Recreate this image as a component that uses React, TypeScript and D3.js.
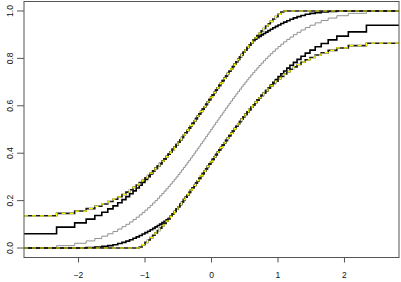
import React from 'react';
import * as d3 from 'd3';

// sorted sample (100 points)
const sample = [
  -2.330, -2.058, -1.885, -1.755, -1.650, -1.560, -1.481, -1.410, -1.346, -1.287,
  -1.232, -1.180, -1.132, -1.086, -1.043, -1.001, -0.961, -0.922, -0.885, -0.849,
  -0.814, -0.780, -0.746, -0.714, -0.682, -0.651, -0.621, -0.591, -0.561, -0.533,
  -0.504, -0.476, -0.449, -0.422, -0.395, -0.368, -0.342, -0.316, -0.290, -0.264,
  -0.239, -0.213, -0.188, -0.163, -0.137, -0.112, -0.087, -0.062, -0.037, -0.012,
  0.012, 0.037, 0.062, 0.087, 0.112, 0.137, 0.163, 0.188, 0.213, 0.239,
  0.264, 0.290, 0.316, 0.342, 0.368, 0.395, 0.422, 0.449, 0.476, 0.504,
  0.533, 0.561, 0.591, 0.621, 0.651, 0.682, 0.714, 0.746, 0.780, 0.814,
  0.849, 0.885, 0.922, 0.961, 1.001, 1.043, 1.086, 1.132, 1.180, 1.232,
  1.287, 1.346, 1.410, 1.481, 1.560, 1.650, 1.755, 1.885, 2.058, 2.330,
];

// half width of the dashed (yellow) band
const dkwEps = 0.136;

// black band in the tails, by step count k (mirrored on the right)
const bandUpperLeft = [
  0.060, 0.088, 0.106, 0.122, 0.137, 0.151, 0.165, 0.178, 0.191, 0.204,
  0.217, 0.229, 0.241, 0.253, 0.265, 0.277, 0.289, 0.301, 0.313, 0.325,
];
const bandLowerLeft = [
  0, 0, 0, 0.002, 0.004, 0.007, 0.010, 0.014, 0.019, 0.024,
  0.029, 0.035, 0.041, 0.047, 0.053, 0.059, 0.065, 0.071, 0.077, 0.083,
  0.089, 0.095, 0.101, 0.107, 0.113, 0.119,
];

const xTicks = [-2, -1, 0, 1, 2];
const yTicks = [0, 0.2, 0.4, 0.6, 0.8, 1.0];

const width = 401;
const height = 282;
const box = { left: 24, right: 399, top: 1.5, bottom: 257.5 };

export default function App() {
  const n = sample.length;
  const x = d3.scaleLinear().domain([-2.82, 2.82]).range([box.left, box.right]);
  const y = d3.scaleLinear().domain([-0.04, 1.04]).range([box.bottom, box.top]);

  const ks = d3.range(n + 1);
  const dkwU = (k: number) => Math.min(1, k / n + dkwEps);
  const dkwL = (k: number) => Math.max(0, k / n - dkwEps);
  const bandU = (k: number) => {
    if (k < bandUpperLeft.length) return Math.min(dkwU(k), bandUpperLeft[k]);
    if (n - k < bandLowerLeft.length) return Math.min(dkwU(k), 1 - bandLowerLeft[n - k]);
    return dkwU(k);
  };
  const bandL = (k: number) => {
    if (k < bandLowerLeft.length) return Math.max(dkwL(k), bandLowerLeft[k]);
    if (n - k < bandUpperLeft.length) return Math.max(dkwL(k), 1 - bandUpperLeft[n - k]);
    return dkwL(k);
  };

  const [x0, x1] = x.domain();
  const stepPath = (f: (k: number) => number) => {
    const pts: [number, number][] = ks.map(k => [k === 0 ? x0 : sample[k - 1], f(k)]);
    pts.push([x1, f(n)]);
    return d3.line<[number, number]>()
      .x(d => x(d[0]))
      .y(d => y(d[1]))
      .curve(d3.curveStepAfter)(pts) as string;
  };

  const ecdf = stepPath(k => k / n);
  const blackUp = stepPath(bandU);
  const blackLo = stepPath(bandL);
  const dkwUp = stepPath(dkwU);
  const dkwLo = stepPath(dkwL);

  const fmt = (v: number) => (v === 0 ? '0.0' : v.toFixed(1));
  const font = '"Liberation Sans", Arial, sans-serif';

  return (
    <svg width={width} height={height} style={{ display: 'block', position: 'absolute', left: 0, top: 0 }}>
      <rect width={width} height={height} fill="#fff" />
      <defs>
        <clipPath id="plot">
          <rect x={box.left} y={box.top} width={box.right - box.left} height={box.bottom - box.top} />
        </clipPath>
      </defs>
      <g clipPath="url(#plot)" fill="none">
        <path d={ecdf} stroke="#909090" strokeWidth={1} />
        <path d={blackUp} stroke="#000" strokeWidth={1.6} />
        <path d={blackLo} stroke="#000" strokeWidth={1.6} />
        {[dkwUp, dkwLo].map((d, i) => (
          <g key={i}>
            <path d={d} stroke="#1a1a1a" strokeWidth={1.6} />
            <path d={d} stroke="#ffff00" strokeWidth={1.2} strokeDasharray="4,4" />
          </g>
        ))}
      </g>
      <rect
        x={box.left}
        y={box.top}
        width={box.right - box.left}
        height={box.bottom - box.top}
        fill="none"
        stroke="#555"
        strokeWidth={1}
      />
      <g className="y-axis" fontFamily={font} fontSize={8.5}>
        {yTicks.map(t => (
          <g key={t}>
            <line x1={box.left - 7} x2={box.left} y1={y(t)} y2={y(t)} stroke="#555" />
            <text
              transform={`translate(${box.left - 11.5},${y(t)}) rotate(-90)`}
              textAnchor="middle"
              fill="#111"
            >
              {fmt(t)}
            </text>
          </g>
        ))}
      </g>
      <g className="x-axis" fontFamily={font} fontSize={8.5}>
        {xTicks.map(t => (
          <g key={t}>
            <line x1={x(t)} x2={x(t)} y1={box.bottom} y2={box.bottom + 5} stroke="#555" />
            <text x={x(t)} y={box.bottom + 20.5} textAnchor="middle" fill="#111">
              {t < 0 ? `\u2212${Math.abs(t)}` : t}
            </text>
          </g>
        ))}
      </g>
    </svg>
  );
}
